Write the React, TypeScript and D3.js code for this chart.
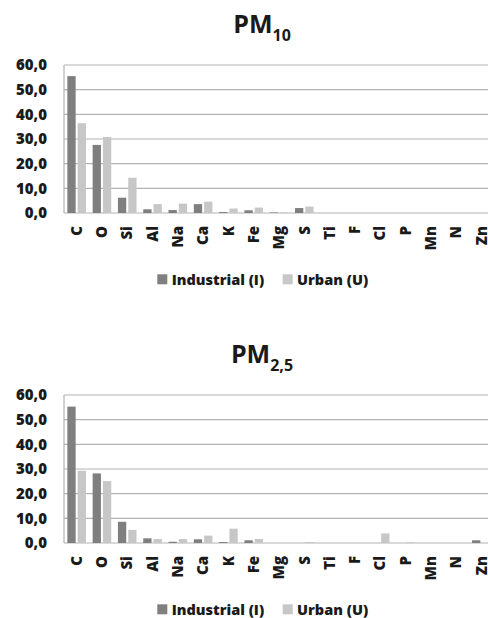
import React from 'react';
import * as d3 from 'd3';

// element categories along the x axis
const elements = ['C', 'O', 'Si', 'Al', 'Na', 'Ca', 'K', 'Fe', 'Mg', 'S', 'Ti', 'F', 'Cl', 'P', 'Mn', 'N', 'Zn'];
const seriesNames = ['Industrial (I)', 'Urban (U)'];
const yTicks = [0, 10, 20, 30, 40, 50, 60];

// PM10 values (%)
const pm10Industrial = [55.5, 27.6, 6.2, 1.5, 1.2, 3.6, 0.4, 1.1, 0.2, 2.0, 0, 0, 0, 0, 0, 0, 0];
const pm10Urban = [36.4, 30.8, 14.3, 3.6, 3.8, 4.6, 1.8, 2.2, 0.2, 2.6, 0, 0, 0, 0, 0, 0, 0];

// PM2,5 values (%)
const pm25Industrial = [55.3, 28.2, 8.6, 1.9, 0.5, 1.5, 0.4, 1.1, 0, 0, 0, 0, 0, 0, 0, 0, 1.1];
const pm25Urban = [29.3, 25.1, 5.3, 1.6, 1.6, 3.0, 5.8, 1.6, 0, 0.4, 0, 0, 3.9, 0.3, 0, 0, 0];

const colors = ['#7f7f7f', '#c6c7c6'];
const font = "'Open Sans', 'DejaVu Sans', sans-serif";

const W = 488;
const H = 618;
const margin = { left: 64, right: 494 };
const plotTop = 65;
const plotBottom = 213;

const commaLocale = d3.formatLocale({ decimal: ',', thousands: '.', grouping: [3], currency: ['', ''] });
const fmt = commaLocale.format('.1f');

type PanelProps = { title: string; sub: string; industrial: number[]; urban: number[]; offsetY: number };

const Panel = ({ title, sub, industrial, urban, offsetY }: PanelProps) => {
  const x = d3.scaleBand().domain(elements).range([margin.left, margin.right]).padding(0);
  const bw = x.bandwidth();
  const groupW = 18.6;
  const x1 = d3
    .scaleBand()
    .domain(seriesNames)
    .range([(bw - groupW) / 2, (bw + groupW) / 2])
    .paddingInner(0.194);
  const y = d3.scaleLinear().domain([0, 60]).range([plotBottom, plotTop]);
  const series = [industrial, urban];

  return (
    <g transform={`translate(0,${offsetY})`}>
      <text x={262} y={33} textAnchor="middle" fontFamily={font} fontWeight="bold" fontSize={25} fill="#1a1a1a">
        {title}
        <tspan fontSize={16} dy={8}>{sub}</tspan>
      </text>

      {/* grid lines */}
      {yTicks.map(t => (
        <line key={t} x1={margin.left} x2={margin.right} y1={y(t)} y2={y(t)} stroke="#b3b3b3" strokeWidth={1.2} />
      ))}
      <line x1={margin.left} x2={margin.left} y1={plotTop} y2={plotBottom} stroke="#b3b3b3" strokeWidth={1.2} />

      {/* y tick labels */}
      {yTicks.map(t => (
        <text key={t} x={47} y={y(t) + 5.2} textAnchor="end" fontFamily={font} fontWeight={800} fontSize={15} fill="#1a1a1a">
          {fmt(t)}
        </text>
      ))}

      {/* bars */}
      {series.map((vals, si) =>
        vals.map((v, i) => (
          <rect
            key={`${si}-${i}`}
            x={(x(elements[i]) ?? 0) + (x1(seriesNames[si]) ?? 0)}
            y={y(v)}
            width={x1.bandwidth()}
            height={plotBottom - y(v)}
            fill={colors[si]}
          />
        ))
      )}

      {/* x labels */}
      {elements.map(e => (
        <text
          key={e}
          transform={`translate(${(x(e) ?? 0) + bw / 2},226) rotate(-90)`}
          textAnchor="end"
          dy="0.35em"
          fontFamily={font}
          fontWeight={800}
          fontSize={15}
          fill="#1a1a1a"
        >
          {e}
        </text>
      ))}

      {/* legend */}
      {seriesNames.map((name, si) => {
        const lx = si === 0 ? 157.3 : 282.7;
        return (
          <g key={name} transform={`translate(${lx},274.3)`}>
            <rect width={10} height={10} fill={colors[si]} />
            <text x={14.4} y={10.2} fontFamily={font} fontWeight={800} fontSize={14.5} fill="#1a1a1a">
              {name}
            </text>
          </g>
        );
      })}
    </g>
  );
};

export default function App() {
  return (
    <svg
      width={W}
      height={H}
      style={{ position: 'absolute', left: 0, top: 0, background: '#fff', overflow: 'hidden' }}
    >
      <rect width={W} height={H} fill="#fff" />
      <Panel title="PM" sub="10" industrial={pm10Industrial} urban={pm10Urban} offsetY={0} />
      <Panel title="PM" sub="2,5" industrial={pm25Industrial} urban={pm25Urban} offsetY={330} />
    </svg>
  );
}
